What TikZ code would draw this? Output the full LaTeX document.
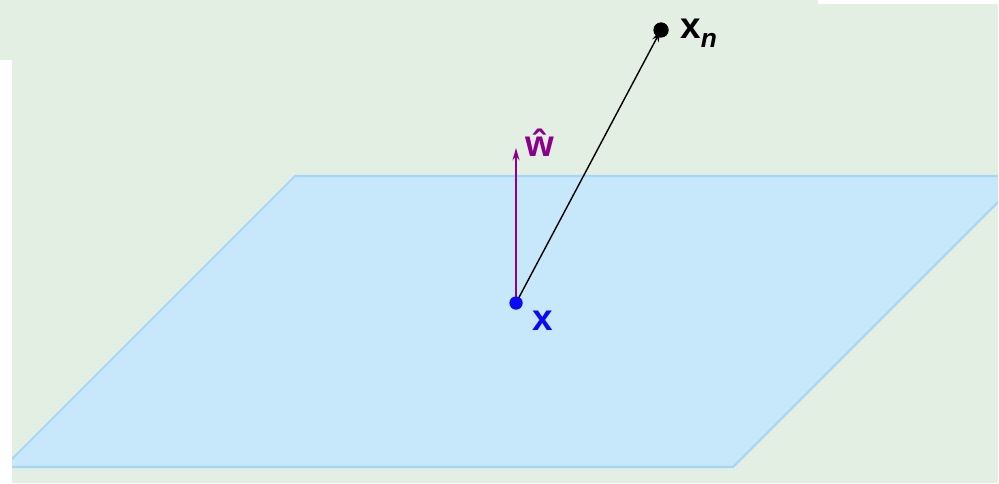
\documentclass[tikz,border=0pt]{standalone}
\usepackage{fontspec}
\setmainfont{Liberation Sans}
\usepackage{tikz}
\usetikzlibrary{arrows.meta,calc,positioning}
\definecolor{bggreen}{RGB}{228,239,227}
\definecolor{planefill}{RGB}{199,231,251}
\definecolor{planeedge}{RGB}{166,214,246}
\definecolor{wpurple}{RGB}{140,0,140}
\definecolor{ptblue}{RGB}{10,10,245}
\tikzset{
  dot/.style={circle,inner sep=0pt,minimum size=#1},
  lbl/.style={font=\fontsize{21}{24}\selectfont\bfseries,inner sep=0pt}
}

\begin{document}
\begin{tikzpicture}[x=0.02cm,y=-0.02cm]
  \useasboundingbox (0,0) rectangle (999,483);
  \fill[bggreen] (0,0) rectangle (999,483);
  % the plane
  \draw[planeedge,fill=planefill,line width=1.2pt] (295,176) -- (1024,176) -- (733,467) -- (4,467) -- cycle;
  % white margins
  \fill[white] (818,0) rectangle (999,4);
  \fill[white] (0,60) rectangle (12,483);
  \fill[white] (998,0) rectangle (999,483);
  % points
  \node[dot=13*0.02cm,fill=ptblue] (x) at (516,303) {};
  \node[dot=15*0.02cm,fill=black] (xn) at (661,30) {};
  \coordinate (wtip) at (516,148);
  \node[lbl,text=ptblue] (xlbl) at (543,321) {x};
  \node[lbl,anchor=west] (xnlbl) at (680,33) {x\raisebox{-0.45ex}{\fontsize{15}{15}\selectfont\itshape n}};
  \node[lbl,text=wpurple] (wlbl) at (540,143) {ŵ};
  % vectors
  \draw[-{Stealth[open,fill=white,length=7pt,width=4pt]},black,line width=0.8pt] (x.center) -- (xn.center);
  \draw[-{Stealth[open,fill=white,length=7pt,width=4pt]},wpurple,line width=0.9pt] (x.center) -- (wtip);
  \fill[ptblue] (x) circle (6.5);
  \fill[black] (xn) circle (7.5);
\end{tikzpicture}
\end{document}
